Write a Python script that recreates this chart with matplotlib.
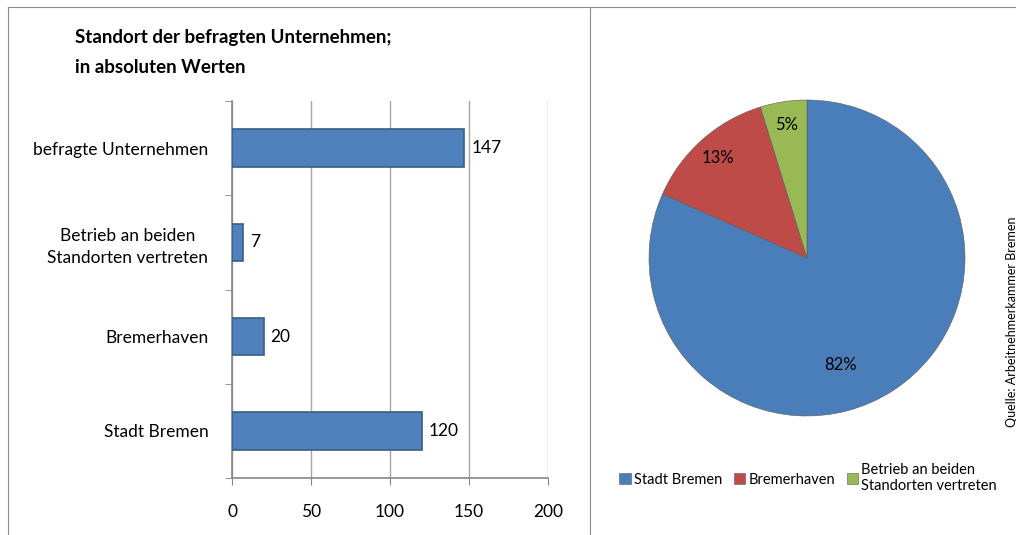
import matplotlib.pyplot as plt
from matplotlib.lines import Line2D

plt.rcParams['font.family'] = ['Lato', 'DejaVu Sans']

categories = ['Stadt Bremen', 'Bremerhaven', 'Betrieb an beiden\nStandorten vertreten', 'befragte Unternehmen']
counts = [120, 20, 7, 147]

pie_labels = ['Stadt Bremen', 'Bremerhaven', 'Betrieb an beiden\nStandorten vertreten']
pie_values = [120, 20, 7]
pie_pct = ['82%', '13%', '5%']
pie_colors = ['#4A7EBB', '#BE4B48', '#98B954']

fig = plt.figure(figsize=(10.16, 5.35), dpi=100)

# frame lines like the document layout
fig.add_artist(Line2D([8 / 1016, 8 / 1016], [0, 1 - 7 / 535], color='#8c8c8c', lw=0.8))
fig.add_artist(Line2D([8 / 1016, 1], [1 - 7 / 535, 1 - 7 / 535], color='#8c8c8c', lw=0.8))
fig.add_artist(Line2D([590 / 1016, 590 / 1016], [0, 1 - 7 / 535], color='#8c8c8c', lw=0.8))

# bar chart
ax = fig.add_axes([232 / 1016, 1 - 478 / 535, 316 / 1016, 377 / 535])
ypos = range(len(categories))
ax.barh(ypos, counts, height=0.4, color='#4F81BD', edgecolor='#385D8A', linewidth=1.2, zorder=3)
for y, v in zip(ypos, counts):
    ax.text(v + 4.5, y, str(v), va='center', ha='left', fontsize=12.5)
ax.set_xlim(0, 200)
ax.set_ylim(-0.5, len(categories) - 0.5)
ax.set_xticks([0, 50, 100, 150, 200])
ax.set_yticks(list(ypos))
ax.set_yticklabels(categories, fontsize=12.5, linespacing=1.5, multialignment='center')
ax.set_yticks([-0.5, 0.5, 1.5, 2.5, 3.5], minor=True)
ax.tick_params(axis='y', which='major', length=0, pad=17)
ax.tick_params(axis='y', which='minor', length=5, color='#868686', direction='out')
ax.tick_params(axis='x', length=5, color='#868686', labelsize=12.5, pad=14)
ax.grid(axis='x', color='#a6a6a6', lw=1, zorder=0)
for s in ['top', 'right']:
    ax.spines[s].set_visible(False)
for s in ['left', 'bottom']:
    ax.spines[s].set_color('#868686')
    ax.spines[s].set_linewidth(1.2)

fig.text(75 / 1016, 1 - 29 / 535, 'Standort der befragten Unternehmen;\nin absoluten Werten',
         fontsize=13.5, fontweight='bold', va='top', ha='left', linespacing=1.95)

# pie chart
pax = fig.add_axes([(807 - 158) / 1016, 1 - (258 + 158) / 535, 316 / 1016, 316 / 535])
wedges, texts = pax.pie(pie_values, colors=pie_colors, startangle=90, counterclock=False,
                        labels=pie_pct, labeldistance=0.85,
                        wedgeprops=dict(edgecolor='#5a5a5a', linewidth=0.4),
                        textprops=dict(fontsize=12, ha='center', va='center'))
texts[0].set_position((0.21, -0.68))
pax.set_xlim(-1, 1)
pax.set_ylim(-1, 1)
pax.set_aspect('equal')

fig.legend(wedges, pie_labels, loc='center left', bbox_to_anchor=(606 / 1016, 1 - 478 / 535),
           ncol=3, frameon=False, fontsize=10.5, handlelength=0.8, handleheight=0.8,
           handletextpad=0.2, columnspacing=0.8, labelspacing=0.3)

fig.text(1012 / 1016, 1 - 322 / 535, 'Quelle: Arbeitnehmerkammer Bremen', rotation=90,
         fontsize=9, ha='center', va='center')

fig.savefig('out.png', dpi=100)
